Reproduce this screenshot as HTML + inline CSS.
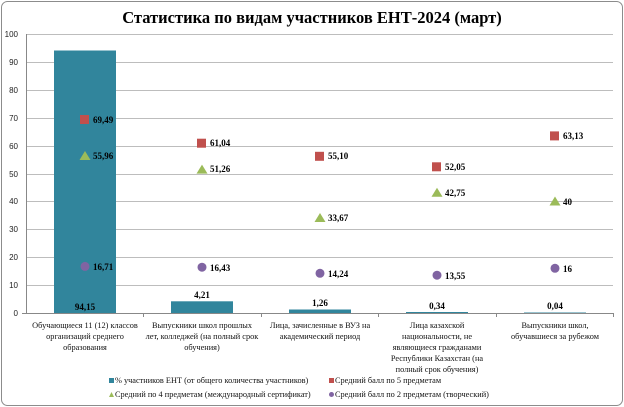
<!DOCTYPE html>
<html><head><meta charset="utf-8"><style>
body{margin:0;background:#fff}
svg{display:block;font-family:"Liberation Serif",serif}
</style></head><body>
<svg width="624" height="407" viewBox="0 0 624 407" xmlns="http://www.w3.org/2000/svg">
<rect x="1.5" y="1.5" width="621" height="404" rx="6" fill="#fff" stroke="#8c8c8c"/>
<text x="312" y="23" text-anchor="middle" font-size="16.5" font-weight="bold">Статистика по видам участников ЕНТ-2024 (март)</text>
<g stroke="#bdbdbd" stroke-width="1">
<line x1="26" y1="34.5" x2="613" y2="34.5"/><line x1="26" y1="62.5" x2="613" y2="62.5"/>
<line x1="26" y1="90.5" x2="613" y2="90.5"/><line x1="26" y1="118.5" x2="613" y2="118.5"/>
<line x1="26" y1="146.5" x2="613" y2="146.5"/><line x1="26" y1="174.5" x2="613" y2="174.5"/>
<line x1="26" y1="201.5" x2="613" y2="201.5"/><line x1="26" y1="229.5" x2="613" y2="229.5"/>
<line x1="26" y1="257.5" x2="613" y2="257.5"/><line x1="26" y1="285.5" x2="613" y2="285.5"/>
</g>
<g stroke="#888"><line x1="26.5" y1="34" x2="26.5" y2="313"/><line x1="22" y1="313.5" x2="613" y2="313.5"/>
<line x1="143.5" y1="313" x2="143.5" y2="317"/><line x1="261.5" y1="313" x2="261.5" y2="317"/><line x1="378.5" y1="313" x2="378.5" y2="317"/><line x1="496.5" y1="313" x2="496.5" y2="317"/><line x1="613.5" y1="313" x2="613.5" y2="317"/></g>
<g font-size="8" text-anchor="end" fill="#222" font-family="Liberation Sans,sans-serif">
<text x="18" y="37">100</text><text x="18" y="65">90</text><text x="18" y="93">80</text><text x="18" y="121">70</text><text x="18" y="149">60</text><text x="18" y="177">50</text><text x="18" y="204">40</text><text x="18" y="232">30</text><text x="18" y="260">20</text><text x="18" y="288">10</text><text x="18" y="316">0</text></g>
<g fill="#31859c">
<rect x="54" y="50.5" width="62" height="262.5"/>
<rect x="171" y="301.3" width="62" height="11.7"/>
<rect x="289" y="309.5" width="62" height="3.5"/>
<rect x="406" y="312" width="62" height="1"/>
<rect x="524" y="312.5" width="62" height="0.5"/>
</g>
<g font-size="9" font-weight="bold" text-anchor="middle">
<text x="85" y="310">94,15</text><text x="202" y="298">4,21</text><text x="320" y="306">1,26</text><text x="437" y="309">0,34</text><text x="555" y="309">0,04</text></g>
<g fill="#c0504d">
<rect x="80" y="115" width="9" height="9"/><rect x="197" y="138.7" width="9" height="9"/><rect x="315" y="151.8" width="9" height="9"/><rect x="432" y="162.3" width="9" height="9"/><rect x="550" y="131.4" width="9" height="9"/></g>
<g fill="#9bbb59">
<polygon points="85,151 79.5,160 90.5,160"/><polygon points="202,164.6 196.5,173.6 207.5,173.6"/><polygon points="320,213 314.5,222 325.5,222"/><polygon points="437,187.7 431.5,196.7 442.5,196.7"/><polygon points="555,196.5 549.5,205.5 560.5,205.5"/></g>
<g fill="#8064a2">
<circle cx="85" cy="266.4" r="4.5"/><circle cx="202" cy="267.2" r="4.5"/><circle cx="320" cy="273.3" r="4.5"/><circle cx="437" cy="275.2" r="4.5"/><circle cx="555" cy="268.3" r="4.5"/></g>
<g font-size="9" font-weight="bold">
<text x="93" y="123">69,49</text><text x="93" y="159">55,96</text><text x="93" y="270">16,71</text>
<text x="210" y="146">61,04</text><text x="210" y="172">51,26</text><text x="210" y="271">16,43</text>
<text x="328" y="159">55,10</text><text x="328" y="221">33,67</text><text x="328" y="277">14,24</text>
<text x="445" y="170">52,05</text><text x="445" y="196">42,75</text><text x="445" y="279">13,55</text>
<text x="563" y="139">63,13</text><text x="563" y="205">40</text><text x="563" y="272">16</text></g>
<g font-size="8.3" text-anchor="middle" fill="#111">
<text x="85" y="328">Обучающиеся 11 (12)  классов</text><text x="85" y="339">организаций среднего</text><text x="85" y="350">образования</text>
<text x="202" y="328">Выпускники школ прошлых</text><text x="202" y="339">лет, колледжей  (на полный срок</text><text x="202" y="350">обучения)</text>
<text x="320" y="328">Лица, зачисленные в ВУЗ на</text><text x="320" y="339">академический период</text>
<text x="437" y="328">Лица казахской</text><text x="437" y="339">национальности, не</text><text x="437" y="350">являющиеся гражданами</text><text x="437" y="361">Республики Казахстан  (на</text><text x="437" y="372">полный срок обучения)</text>
<text x="555" y="328">Выпускники школ,</text><text x="555" y="339">обучавшиеся за рубежом</text>
</g>
<g font-size="8.3" fill="#111">
<rect x="109" y="378" width="5" height="5" fill="#31859c"/><text x="115" y="383">% участников ЕНТ  (от общего количества участников)</text>
<rect x="329" y="378" width="5" height="5" fill="#c0504d"/><text x="335" y="383">Средний балл по 5 предметам</text>
<polygon points="111.5,392 109,397 114,397" fill="#9bbb59"/><text x="115" y="397">Средний  по 4 предметам  (международный сертификат)</text>
<circle cx="331.5" cy="394.5" r="2.5" fill="#8064a2"/><text x="335" y="397">Средний балл по 2 предметам (творческий)</text>
</g>
</svg>
</body></html>
